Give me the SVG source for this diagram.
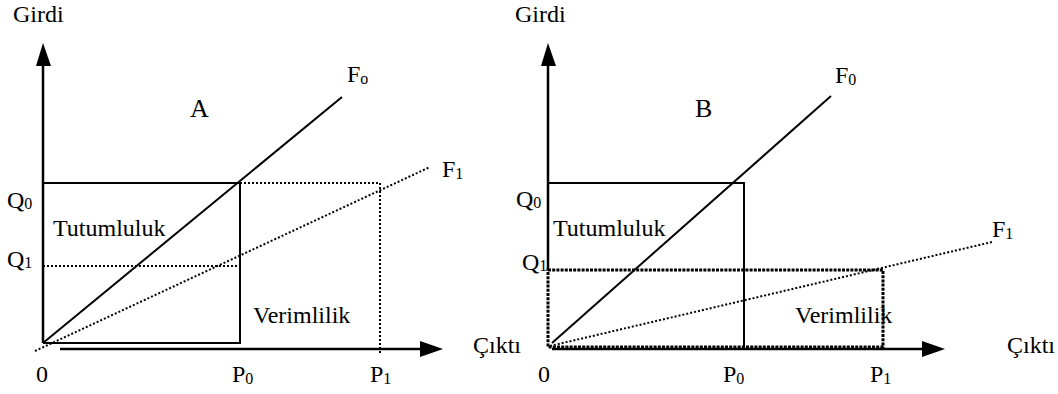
<svg xmlns="http://www.w3.org/2000/svg" width="1058" height="394" viewBox="0 0 1058 394" font-family="'Liberation Serif', 'Times New Roman', 'DejaVu Serif', serif">
<style>
text{font-family:'Liberation Serif','Times New Roman','DejaVu Serif',serif;font-size:24px;fill:#000}
.sub{font-size:16px}
.big{font-size:26px}
.ax{stroke:#000;stroke-width:2.5;fill:none}
.solid{stroke:#000;stroke-width:2;fill:none}
.dot{stroke:#000;stroke-width:2;stroke-dasharray:2 2;fill:none}
.dotb{stroke:#000;stroke-width:3;stroke-dasharray:3 1.2;fill:none}
.head{fill:#000}
</style>
<rect width="1058" height="394" fill="#fff"/>
<g id="panelA">
  <g id="connectorsA">
    <line class="ax" x1="43" y1="64" x2="43" y2="343"/>
    <polygon class="head" points="43,43 36,66 51,66"/>
    <line class="ax" x1="60" y1="349" x2="422" y2="349"/>
    <polygon class="head" points="443,349 420,341 420,357"/>
    <polyline class="solid" points="43,183 240,183 240,343 43,343"/>
    <line class="solid" x1="43" y1="343" x2="342" y2="97"/>
    <line class="dot" x1="35" y1="351" x2="430" y2="167"/>
    <line class="dot" x1="240" y1="183" x2="380" y2="183"/>
    <line class="dot" x1="380" y1="183" x2="380" y2="354"/>
    <line class="dot" x1="43" y1="266" x2="240" y2="266"/>
  </g>
  <g id="labelsA">
    <text x="13" y="22">Girdi</text>
    <text class="big" x="190" y="117">A</text>
    <text x="347" y="82">F<tspan class="sub" dy="2">o</tspan></text>
    <text x="442" y="177">F<tspan class="sub" dy="2">1</tspan></text>
    <text x="7" y="208">Q<tspan class="sub" dy="1">0</tspan></text>
    <text x="53" y="236">Tutumluluk</text>
    <text x="7" y="267">Q<tspan class="sub" dy="1">1</tspan></text>
    <text x="253" y="323">Verimlilik</text>
    <text x="36" y="382">0</text>
    <text x="232" y="382">P<tspan class="sub" dy="2">0</tspan></text>
    <text x="370" y="382">P<tspan class="sub" dy="2">1</tspan></text>
    <text x="473" y="353">Çıktı</text>
  </g>
</g>
<g id="panelB">
  <g id="connectorsB">
    <line class="ax" x1="548" y1="64" x2="548" y2="270"/>
    <polygon class="head" points="548,43 541,66 556,66"/>
    <line class="ax" x1="552" y1="349" x2="924" y2="349"/>
    <polygon class="head" points="945,349 922,341 922,357"/>
    <polyline class="solid" points="548,183 744,183 744,348"/>
    <line class="solid" x1="552" y1="343" x2="831" y2="96"/>
    <line class="dot" x1="550" y1="346" x2="992" y2="242"/>
    <rect class="dotb" x="548" y="270" width="335" height="77"/>
  </g>
  <g id="labelsB">
    <text x="515" y="22">Girdi</text>
    <text class="big" x="695" y="117">B</text>
    <text x="835" y="83">F<tspan class="sub" dy="2">0</tspan></text>
    <text x="992" y="237">F<tspan class="sub" dy="2">1</tspan></text>
    <text x="516" y="207">Q<tspan class="sub" dy="1">0</tspan></text>
    <text x="553" y="236">Tutumluluk</text>
    <text x="522" y="270">Q<tspan class="sub" dy="1">1</tspan></text>
    <text x="795" y="323">Verimlilik</text>
    <text x="538" y="382">0</text>
    <text x="723" y="382">P<tspan class="sub" dy="2">0</tspan></text>
    <text x="870" y="382">P<tspan class="sub" dy="2">1</tspan></text>
    <text x="1007" y="353">Çıktı</text>
  </g>
</g>
</svg>
